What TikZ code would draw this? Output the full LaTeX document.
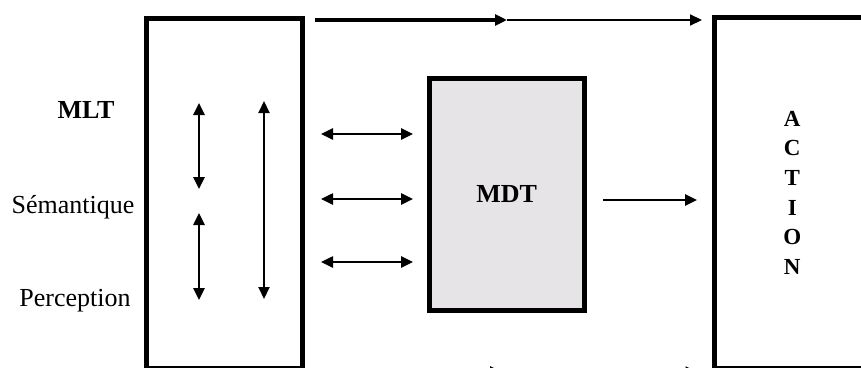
\documentclass[tikz,border=0pt]{standalone}
\usepackage{fontspec}
\setmainfont{Liberation Serif}
\usetikzlibrary{arrows.meta}
\definecolor{mdtgray}{HTML}{E6E4E6}
\begin{document}
\begin{tikzpicture}[x=1pt,y=-1pt,
  box/.style={draw=black, line width=5pt, rectangle, inner sep=0pt, outer sep=0pt},
  lbl/.style={font=\fontsize{26}{30}\selectfont, anchor=base, inner sep=0pt},
  tip/.style={-{Triangle[length=12pt,width=11pt]}},
  dbl/.style={{Triangle[length=12pt,width=11pt]}-{Triangle[length=12pt,width=11pt]}},
  conn/.style={line width=2.5pt}]
\useasboundingbox (0,0) rectangle (861,367);
\clip (0,0) rectangle (861,367);
\node[box, minimum width=156.5pt, minimum height=350pt] (mlt) at (224.25,193) {};
\node[box, fill=mdtgray, minimum width=155.5pt, minimum height=232.5pt,
      font=\fontsize{26}{30}\selectfont\bfseries] (mdt) at (506.75,194.25) {MDT};
\node[box, minimum width=155.5pt, minimum height=350.5pt, align=center,
      font=\fontsize{23}{29.6}\selectfont\bfseries] (action) at (792.25,192.75) {A\\C\\T\\I\\O\\N};
% labels
\node[lbl, font=\fontsize{26}{30}\selectfont\bfseries] (lmlt) at (86,118) {MLT};
\node[lbl] (lsem) at (73,213) {Sémantique};
\node[lbl] (lper) at (75,306) {Perception};
% internal vertical arrows
\coordinate (v1a) at (199,103); \coordinate (v1b) at (199,189);
\coordinate (v2a) at (199,213); \coordinate (v2b) at (199,300);
\coordinate (v3a) at (264,101); \coordinate (v3b) at (264,299);
\draw[conn, dbl] (v1a) -- (v1b);
\draw[conn, dbl] (v2a) -- (v2b);
\draw[conn, line width=2pt, dbl] (v3a) -- (v3b);
% double arrows MLT <-> MDT
\foreach \yy in {134, 199, 262}{
  \draw[conn, dbl, shorten <=18.5pt, shorten >=16pt] (mlt.east |- 0,\yy) -- (mdt.west |- 0,\yy);
}
% MDT -> ACTION
\draw[conn, tip, shorten <=18.5pt, shorten >=17.5pt] (mdt.east |- 0,200) -- (action.west |- 0,200);
% top arrow
\coordinate (tmid) at (507,20);
\draw[line width=3.5pt, tip, shorten <=12.5pt] (mlt.east |- 0,20) -- (tmid);
\draw[line width=2pt, tip, shorten >=12.5pt] (tmid) -- (action.west |- 0,20);
% bottom arrow (cut by the frame)
\coordinate (bmid) at (502,372);
\draw[line width=3.5pt, tip, shorten <=12.5pt] (mlt.east |- 0,372) -- (bmid);
\draw[line width=2pt, tip, shorten >=17pt] (bmid) -- (action.west |- 0,372);
\end{tikzpicture}
\end{document}
